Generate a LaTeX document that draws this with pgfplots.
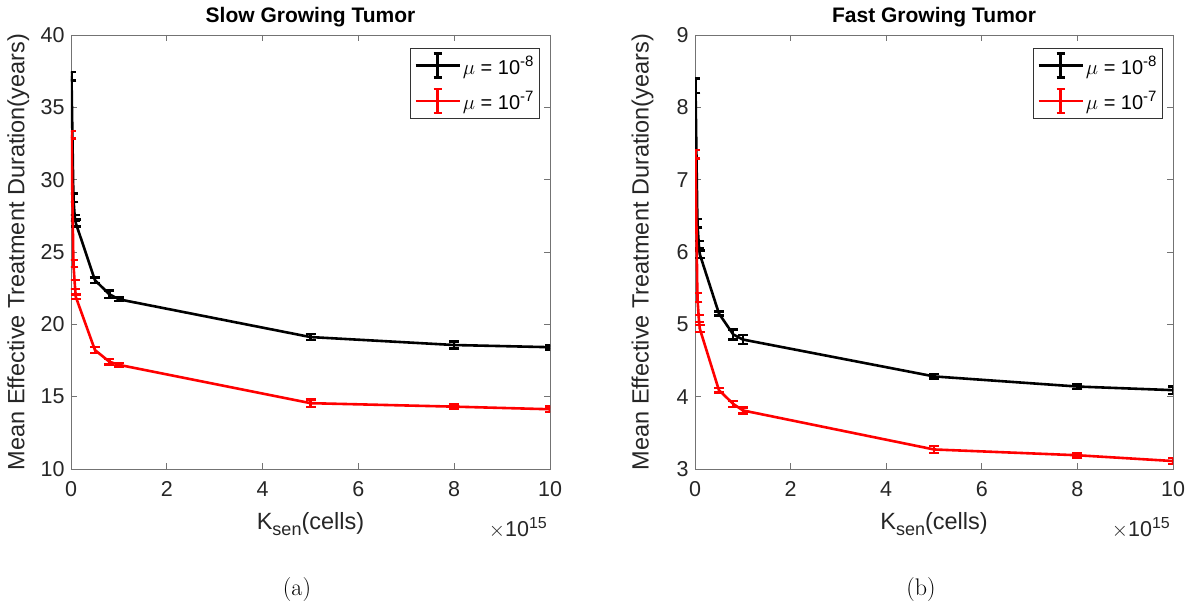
\documentclass[border=0pt]{standalone}
\usepackage{pgfplots}
\usepackage{pgfplotstable}
\pgfplotsset{compat=1.18}
\usepackage{fontspec}
\newfontfamily\arial{Liberation Sans}
\definecolor{axgray}{gray}{0.15}
\definecolor{mred}{rgb}{1,0,0}

\pgfplotstableread{
x y e
0.01 37.15 0.30
0.05 28.75 0.30
0.08 27.35 0.20
0.1 27.00 0.25
0.5 23.05 0.20
0.8 22.08 0.25
1 21.73 0.12
5 19.12 0.22
8 18.57 0.25
10 18.42 0.15
}\slowblack
\pgfplotstableread{
x y e
0.01 33.10 0.25
0.05 24.20 0.25
0.08 22.75 0.30
0.1 21.90 0.15
0.5 18.22 0.20
0.8 17.42 0.20
1 17.20 0.12
5 14.55 0.25
8 14.31 0.15
10 14.13 0.20
}\slowred
\pgfplotstableread{
x y e
0.01 8.30 0.10
0.05 6.40 0.06
0.08 6.10 0.05
0.1 5.97 0.05
0.5 5.15 0.03
0.8 4.86 0.07
1 4.79 0.06
5 4.28 0.03
8 4.14 0.03
10 4.09 0.05
}\fastblack
\pgfplotstableread{
x y e
0.01 7.35 0.06
0.05 5.37 0.06
0.08 5.08 0.05
0.1 4.94 0.05
0.5 4.09 0.03
0.8 3.90 0.04
1 3.81 0.04
5 3.27 0.05
8 3.19 0.03
10 3.11 0.04
}\fastred

\pgfplotsset{
  mystyle/.style={
    scale only axis, width=479pt, height=434pt,
    xmin=0, xmax=10, xtick={0,2,...,10},
    scaled x ticks=false, scaled y ticks=false,
    font=\arial\fontsize{21.5}{24}\selectfont,
    /pgf/number format/assume math mode=true,
    axis line style={draw=black!55, line width=0.8pt},
    every tick/.style={draw=black!55, line width=0.8pt},
    major tick length=6pt,
    tick align=inside,
    ticklabel style={text=axgray, font=\arial\fontsize{21.5}{24}\selectfont},
    xticklabel style={yshift=-9pt},
    yticklabel style={xshift=-3pt},
    every axis x label/.style={at={(axis description cs:0.5,-0.128)},anchor=center,text=axgray,font=\arial\fontsize{23.5}{26}\selectfont},
    every axis y label/.style={at={(axis description cs:-0.11,0.5)},rotate=90,anchor=center,text=axgray,font=\arial\fontsize{23.5}{26}\selectfont},
    every axis title/.style={at={(axis description cs:0.5,1)},anchor=base,yshift=12pt,font=\arial\bfseries\fontsize{21}{24}\selectfont},
    legend style={at={(rel axis cs:0.979,0.97)}, anchor=north east, draw=black!80, line width=0.8pt,
      font=\arial\fontsize{20}{22}\selectfont, inner sep=4pt, row sep=9pt},
    legend cell align=left,
  },
  bar/.style={line width=2.6pt, mark=none,
    error bars/y dir=both, error bars/y explicit,
    error bars/error bar style={line width=2.4pt},
    error bars/error mark options={rotate=90, line width=2.4pt, mark size=5pt}},
  errlegblack/.style={legend image code/.code={
    \draw[black,line width=2.6pt] (0pt,0pt) -- (44pt,0pt);
    \draw[black,line width=2.4pt] (22pt,-12pt) -- (22pt,12pt);
    \draw[black,line width=2.4pt] (18pt,12pt) -- (26pt,12pt);
    \draw[black,line width=2.4pt] (18pt,-12pt) -- (26pt,-12pt);}},
  errlegred/.style={legend image code/.code={
    \draw[mred,line width=2.6pt] (0pt,0pt) -- (44pt,0pt);
    \draw[mred,line width=2.4pt] (22pt,-12pt) -- (22pt,12pt);
    \draw[mred,line width=2.4pt] (18pt,12pt) -- (26pt,12pt);
    \draw[mred,line width=2.4pt] (18pt,-12pt) -- (26pt,-12pt);}},
}

\newcommand{\legtxt}[1]{$\mu$ = 10\raisebox{8pt}{\fontsize{15}{15}\selectfont #1}}
\newcommand{\klabel}{K\raisebox{-6pt}{\fontsize{18}{18}\selectfont sen}(cells)}
\newcommand{\scaletxt}{$\times$10\raisebox{8pt}{\fontsize{16}{16}\selectfont 15}}

\begin{document}
\begin{tikzpicture}
\useasboundingbox (0pt,0pt) rectangle (1193pt,607pt);

\begin{axis}[mystyle, name=ax1, at={(71pt,138pt)}, anchor=south west,
  ymin=10, ymax=40, ytick={10,15,...,40},
  title={Slow Growing Tumor},
  xlabel={\klabel},
  ylabel={Mean Effective Treatment Duration(years)}]
\addlegendimage{errlegblack}
\addlegendentry{\legtxt{-8}}
\addlegendimage{errlegred}
\addlegendentry{\legtxt{-7}}
\addplot[bar, black, forget plot] table[x=x, y=y, y error=e] {\slowblack};
\addplot[bar, mred, forget plot] table[x=x, y=y, y error=e] {\slowred};
\end{axis}

\begin{axis}[mystyle, name=ax2, at={(695pt,138pt)}, anchor=south west, width=478pt,
  ymin=3, ymax=9, ytick={3,4,...,9},
  title={Fast Growing Tumor},
  xlabel={\klabel},
  ylabel={Mean Effective Treatment Duration(years)}]
\addlegendimage{errlegblack}
\addlegendentry{\legtxt{-8}}
\addlegendimage{errlegred}
\addlegendentry{\legtxt{-7}}
\addplot[bar, black, forget plot] table[x=x, y=y, y error=e] {\fastblack};
\addplot[bar, mred, forget plot] table[x=x, y=y, y error=e] {\fastred};
\end{axis}

\node[anchor=base east, text=axgray, font=\arial\fontsize{21.5}{24}\selectfont, inner sep=0pt] at ([xshift=-3pt,yshift=-68pt]ax1.south east) {\scaletxt};
\node[anchor=base east, text=axgray, font=\arial\fontsize{21.5}{24}\selectfont, inner sep=0pt] at ([xshift=-3pt,yshift=-68pt]ax2.south east) {\scaletxt};

\node[font=\fontsize{24}{28}\selectfont] at (297pt,17pt) {(a)};
\node[font=\fontsize{24}{28}\selectfont] at (921pt,17pt) {(b)};
\end{tikzpicture}
\end{document}
